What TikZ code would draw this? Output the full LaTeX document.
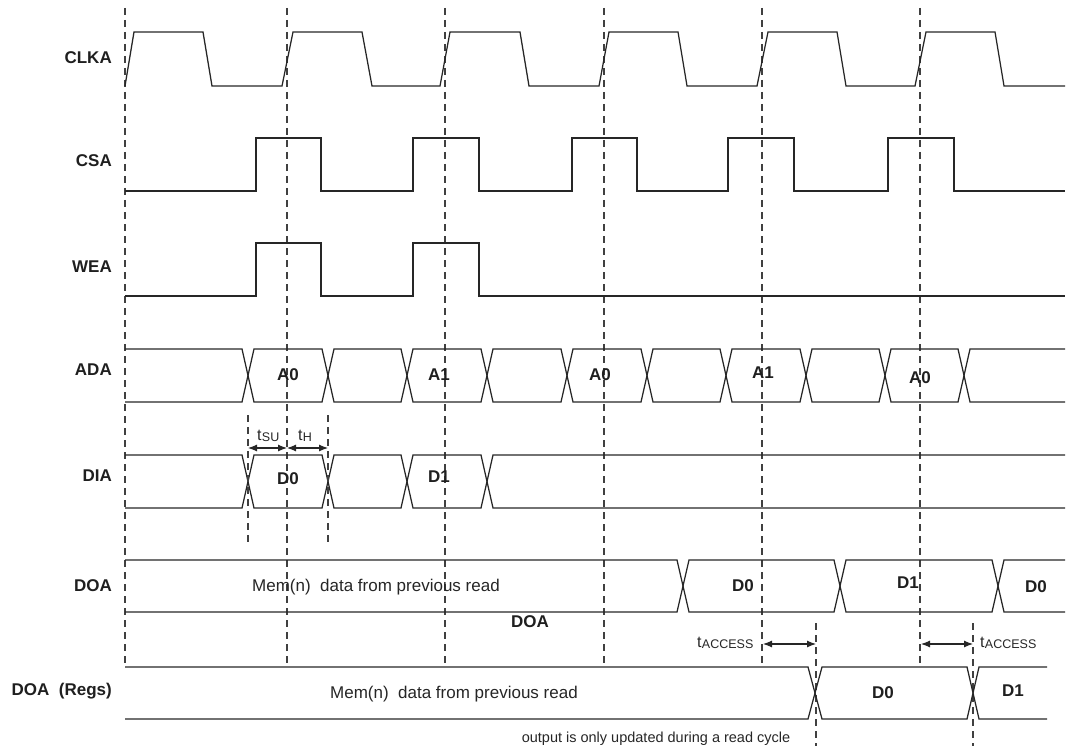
\documentclass[tikz,border=0pt]{standalone}
\usepackage{fontspec}
\setmainfont{Liberation Sans}
\usetikzlibrary{arrows.meta}
\newcommand\tsubtext[1]{t\kern0.3pt\raisebox{-1.8pt}{\fontsize{12.5}{14}\selectfont #1}}
\begin{document}
\begin{tikzpicture}[x=1pt,y=-1pt,
  sig/.style={line width=1.25pt, draw=black!85, line join=miter},
  gridline/.style={line width=1.1pt, draw=black!75, dash pattern=on 7pt off 5pt},
  lbl/.style={font=\fontsize{17}{19}\selectfont\bfseries, text=black!88, anchor=east, inner sep=0pt, text height=12pt, text depth=0pt},
  val/.style={font=\fontsize{17}{19}\selectfont\bfseries, text=black!88, inner sep=0pt, text height=12pt, text depth=0pt},
  txt/.style={font=\fontsize{17}{19}\selectfont, text=black!85, inner sep=0pt, text height=12pt, text depth=0pt, anchor=west},
  tlab/.style={font=\fontsize{16}{18}\selectfont, text=black!85, inner sep=0pt, anchor=base west},
  dimarrow/.style={line width=1.1pt, draw=black!85, {Latex[length=9pt,width=7pt]}-{Latex[length=9pt,width=7pt]}},
]
\useasboundingbox (0,0) rectangle (1070,746);

% vertical dashed reference lines
\foreach \x [count=\i] in {125,287,445,604,762,920}{
  \coordinate (gt\i) at (\x,8);
  \coordinate (gb\i) at (\x,667);
  \draw[gridline] (gt\i) -- (gb\i);
}

% signal names
\node[lbl] (nclk) at (112,58) {CLKA};
\node[lbl] (ncsa) at (112,161) {CSA};
\node[lbl] (nwea) at (112,266) {WEA};
\node[lbl] (nada) at (112,369) {ADA};
\node[lbl] (ndia) at (112,475) {DIA};
\node[lbl] (ndoa) at (112,585) {DOA};
\node[lbl] (nreg) at (112,689) {DOA\ \ (Regs)};

% CLKA
\draw[sig] (125,86) -- (134,32) -- (203,32) -- (212,86) -- (282,86) -- (293,32) -- (362,32) -- (372,86)
  -- (440,86) -- (450,32) -- (520,32) -- (529,86) -- (599,86) -- (609,32) -- (678,32) -- (687,86)
  -- (757,86) -- (768,32) -- (837,32) -- (846,86) -- (915,86) -- (926,32) -- (995,32) -- (1004,86) -- (1065,86);

% CSA
\draw[sig] (125,191) -- (256,191) -- (256,138) -- (321,138) -- (321,191) -- (413,191) -- (413,138) -- (479,138)
  -- (479,191) -- (572,191) -- (572,138) -- (637,138) -- (637,191) -- (728,191) -- (728,138) -- (794,138)
  -- (794,191) -- (888,191) -- (888,138) -- (954,138) -- (954,191) -- (1065,191);

% WEA
\draw[sig] (125,296) -- (256,296) -- (256,243) -- (321,243) -- (321,296) -- (413,296) -- (413,243) -- (479,243)
  -- (479,296) -- (1065,296);

% ADA bus
\draw[sig] (125,349)--(242,349)--(254,402)--(322,402)--(334,349)--(401,349)--(413,402)--(481,402)--(493,349)
  --(561,349)--(573,402)--(641,402)--(653,349)--(720,349)--(732,402)--(800,402)--(812,349)--(879,349)
  --(891,402)--(958,402)--(970,349)--(1065,349);
\draw[sig] (125,402)--(242,402)--(254,349)--(322,349)--(334,402)--(401,402)--(413,349)--(481,349)--(493,402)
  --(561,402)--(573,349)--(641,349)--(653,402)--(720,402)--(732,349)--(800,349)--(812,402)--(879,402)
  --(891,349)--(958,349)--(970,402)--(1065,402);
\node[val] (a0a) at (288,374) {A0};
\node[val] (a1a) at (439,374) {A1};
\node[val] (a0b) at (600,374) {A0};
\node[val] (a1b) at (763,372) {A1};
\node[val] (a0c) at (920,377) {A0};

% DIA bus
\draw[sig] (125,455)--(242,455)--(254,508)--(322,508)--(334,455)--(401,455)--(413,508)--(481,508)--(493,455)--(1065,455);
\draw[sig] (125,508)--(242,508)--(254,455)--(322,455)--(334,508)--(401,508)--(413,455)--(481,455)--(493,508)--(1065,508);
\node[val] (d0i) at (288,478) {D0};
\node[val] (d1i) at (439,476) {D1};

% setup / hold markers
\coordinate (sut) at (248,415); \coordinate (sub) at (248,545);
\coordinate (hot) at (328,415); \coordinate (hob) at (328,545);
\draw[gridline] (sut) -- (sub);
\draw[gridline] (hot) -- (hob);
\coordinate (su1) at (248,448); \coordinate (su2) at (287,448); \coordinate (su3) at (328,448);
\draw[dimarrow] (su1) -- (su2);
\draw[dimarrow] (su2) -- (su3);
\node[tlab] (tsu) at (257,440) {\tsubtext{SU}};
\node[tlab] (th) at (298,440) {\tsubtext{H}};

% DOA bus
\draw[sig] (125,560)--(677,560)--(689,612)--(834,612)--(846,560)--(992,560)--(1004,612)--(1065,612);
\draw[sig] (125,612)--(677,612)--(689,560)--(834,560)--(846,612)--(992,612)--(1004,560)--(1065,560);
\node[txt] (memdoa) at (252,585) {Mem(n)\ \ data from previous read};
\node[val] (d0o) at (743,585) {D0};
\node[val] (d1o) at (908,582) {D1};
\node[val] (d0o2) at (1036,586) {D0};
\node[val] (doalbl) at (530,621) {DOA};

% access markers
\coordinate (ac1t) at (816,623); \coordinate (ac1b) at (816,746);
\coordinate (ac2t) at (973,623); \coordinate (ac2b) at (973,746);
\draw[gridline] (ac1t) -- (ac1b);
\draw[gridline] (ac2t) -- (ac2b);
\coordinate (aa1) at (763,644); \coordinate (aa2) at (816,644);
\coordinate (ab1) at (921,644); \coordinate (ab2) at (973,644);
\draw[dimarrow] (aa1) -- (aa2);
\draw[dimarrow] (ab1) -- (ab2);
\node[tlab] (tacc1) at (697,647) {\tsubtext{ACCESS}};
\node[tlab] (tacc2) at (980,647) {\tsubtext{ACCESS}};

% DOA (Regs) bus
\draw[sig] (125,667)--(808,667)--(822,719)--(967,719)--(979,667)--(1047,667);
\draw[sig] (125,719)--(808,719)--(822,667)--(967,667)--(979,719)--(1047,719);
\node[txt] (memreg) at (330,692) {Mem(n)\ \ data from previous read};
\node[val] (d0r) at (883,692) {D0};
\node[val] (d1r) at (1013,690) {D1};

% note
\node[font=\fontsize{14.5}{16}\selectfont, text=black!85, inner sep=0pt, text height=10.5pt, text depth=0pt] (note) at (656,737) {output is only updated during a read cycle};
\end{tikzpicture}
\end{document}
